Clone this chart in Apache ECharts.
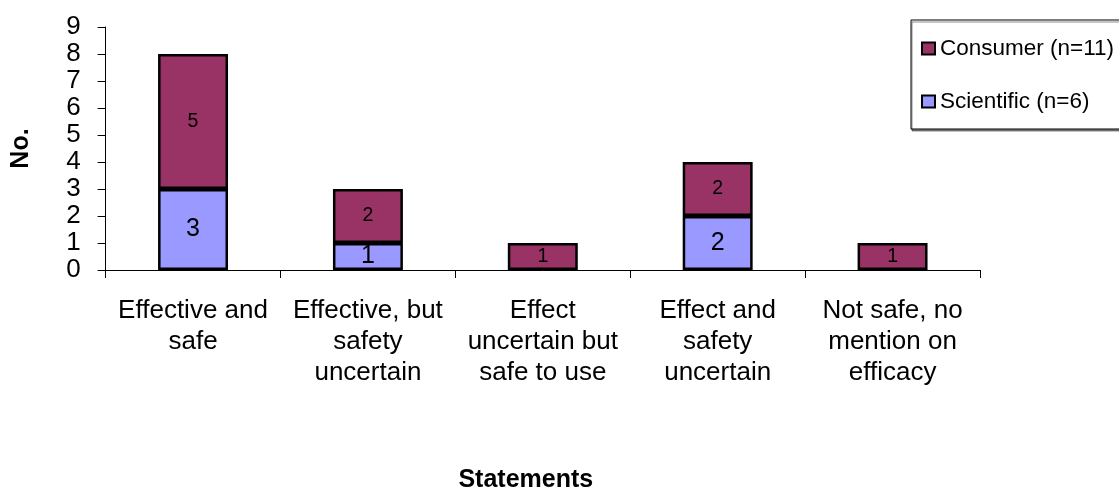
<!DOCTYPE html>
<html>
<head>
<meta charset="utf-8">
<title>Statements by source</title>
<script src="https://cdn.jsdelivr.net/npm/echarts@6/dist/echarts.min.js"></script>
<style>
  html, body { margin: 0; padding: 0; background: #fff; }
  #chart { width: 1119px; height: 491px; }
</style>
</head>
<body>
<div id="chart"></div>
<script>
// Statement categories (x axis)
const categories = [
  'Effective and\nsafe',
  'Effective, but\nsafety\nuncertain',
  'Effect\nuncertain but\nsafe to use',
  'Effect and\nsafety\nuncertain',
  'Not safe, no\nmention on\nefficacy'
];

// Counts per statement
const scientificValues = [3, 1, 0, 2, 0];
const consumerValues = [5, 2, 1, 2, 1];

const scientificName = 'Scientific (n=6)';
const consumerName = 'Consumer (n=11)';

// Y axis ticks 0..9
const yTicks = [0, 1, 2, 3, 4, 5, 6, 7, 8, 9];

const FONT = 'Liberation Sans, Arial, sans-serif';

// Zero counts are left out so no empty segment or "0" label is drawn
const toData = arr => arr.map(v => (v === 0 ? null : v));

const chart = echarts.init(document.getElementById('chart'), null, { renderer: 'canvas' });

chart.setOption({
  backgroundColor: '#ffffff',
  animation: false,
  textStyle: { fontFamily: FONT, color: '#000' },
  grid: {
    left: 105.6, right: 139, top: 27, bottom: 221,
    containLabel: false, outerBoundsMode: 'none'
  },
  legend: {
    orient: 'vertical',
    left: 911,
    top: 20,
    data: [consumerName, scientificName],
    icon: 'rect',
    itemWidth: 13,
    itemHeight: 12,
    itemGap: 30,
    padding: [17, 40, 16, 10],
    backgroundColor: '#ffffff',
    borderColor: '#000',
    borderWidth: 1,
    shadowColor: 'rgba(0,0,0,0.45)',
    shadowOffsetX: 1,
    shadowOffsetY: 2,
    shadowBlur: 0,
    textStyle: { fontFamily: FONT, fontSize: 22.5, color: '#000' }
  },
  xAxis: {
    type: 'category',
    data: categories,
    name: 'Statements',
    nameLocation: 'middle',
    nameGap: 198,
    nameTextStyle: {
      fontFamily: FONT, fontSize: 25, fontWeight: 'bold', color: '#000',
      padding: [0, 34, 0, 0]
    },
    axisLine: { show: true, lineStyle: { color: '#000', width: 1 } },
    axisTick: { show: true, length: 8, inside: false, alignWithLabel: false, interval: 0,
      lineStyle: { color: '#000', width: 1 } },
    axisLabel: {
      interval: 0, fontFamily: FONT, fontSize: 26, lineHeight: 31,
      color: '#000', margin: 25, align: 'center'
    },
    splitLine: { show: false }
  },
  yAxis: {
    type: 'value',
    min: yTicks[0],
    max: yTicks[yTicks.length - 1],
    interval: 1,
    name: 'No.',
    nameLocation: 'middle',
    nameGap: 72,
    nameRotate: 90,
    nameTextStyle: { fontFamily: FONT, fontSize: 25, fontWeight: 'bold', color: '#000' },
    axisLine: { show: true, lineStyle: { color: '#000', width: 1 } },
    axisTick: { show: true, length: 8, inside: false, lineStyle: { color: '#000', width: 1 } },
    axisLabel: { fontFamily: FONT, fontSize: 26, color: '#000', margin: 25 },
    splitLine: { show: false }
  },
  series: [
    {
      name: scientificName,
      type: 'bar',
      stack: 'total',
      barWidth: '40%',
      data: toData(scientificValues),
      itemStyle: { color: '#9999FF', borderColor: '#000', borderWidth: 2.5 },
      label: { show: true, position: 'inside', color: '#000', fontFamily: FONT, fontSize: 25 }
    },
    {
      name: consumerName,
      type: 'bar',
      stack: 'total',
      barWidth: '40%',
      data: toData(consumerValues),
      itemStyle: { color: '#993366', borderColor: '#000', borderWidth: 2.5 },
      label: { show: true, position: 'inside', color: '#000', fontFamily: FONT, fontSize: 19.5 }
    }
  ]
});
</script>
</body>
</html>
